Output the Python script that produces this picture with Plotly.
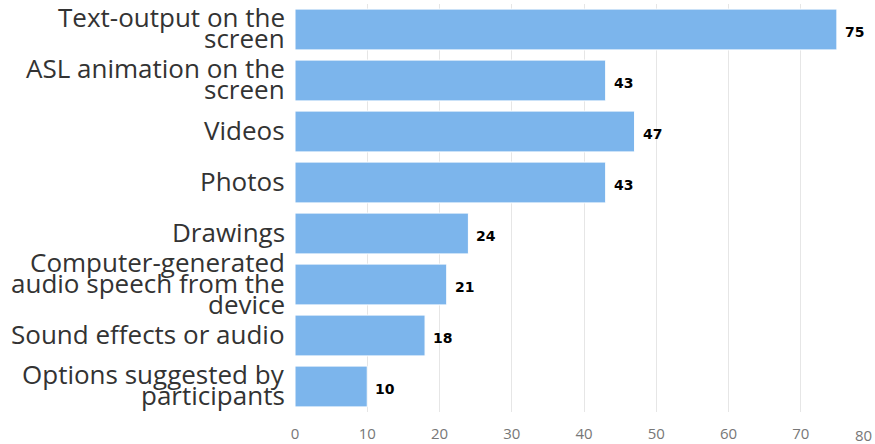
import plotly.graph_objects as go

# Survey responses: preferred output formats
categories = [
    "Text-output on the<br>screen",
    "ASL animation on the<br>screen",
    "Videos",
    "Photos",
    "Drawings",
    "Computer-generated<br>audio speech from the<br>device",
    "Sound effects or audio",
    "Options suggested by<br>participants",
]
values = [75, 43, 47, 43, 24, 21, 18, 10]
x_ticks = [0, 10, 20, 30, 40, 50, 60, 70, 80]

BAR_COLOR = "#7cb5ec"
LABEL_FONT = "Open Sans"

fig = go.Figure(
    go.Bar(
        y=categories,
        x=values,
        orientation="h",
        marker=dict(color=BAR_COLOR, line=dict(color="#ffffff", width=1)),
        hoverinfo="x+y",
    )
)

annotations = []

# Category labels, one annotation per line for tight line spacing
line_h = 21
for cat in categories:
    lines = cat.split("<br>")
    n = len(lines)
    for i, ln in enumerate(lines):
        annotations.append(dict(
            x=0, xref="paper", xanchor="right", xshift=-8,
            y=cat, yref="y", yanchor="middle",
            yshift=-(i - (n - 1) / 2) * line_h + 2,
            text=ln, showarrow=False,
            font=dict(family=LABEL_FONT, size=26, color="#333333"),
        ))

# Value labels just past the end of each bar
for cat, v in zip(categories, values):
    annotations.append(dict(
        x=v, xref="x", xanchor="left", xshift=6,
        y=cat, yref="y", yanchor="middle", yshift=-2,
        text=f"<b>{v}</b>", showarrow=False,
        font=dict(family="DejaVu Sans", size=14, color="#000000"),
    ))

# Last x tick label kept inside the page edge
annotations.append(dict(
    x=x_ticks[-1], xref="x", xanchor="right", xshift=1,
    y=0, yref="paper", yanchor="top", yshift=-11,
    text=str(x_ticks[-1]), showarrow=False,
    font=dict(family=LABEL_FONT, size=15, color="#777777"),
))

fig.update_layout(
    width=875, height=444,
    margin=dict(l=295, r=2, t=4, b=32, autoexpand=False),
    paper_bgcolor="#ffffff",
    plot_bgcolor="#ffffff",
    bargap=0.2,
    showlegend=False,
    annotations=annotations,
    xaxis=dict(
        range=[0, 80],
        tickvals=x_ticks,
        ticktext=[str(t) for t in x_ticks[:-1]] + [""],
        showgrid=True, gridcolor="#e6e6e6", gridwidth=1,
        zeroline=False, showline=False,
        ticks="", ticklen=0,
        ticklabelstandoff=11,
        tickfont=dict(family=LABEL_FONT, size=15, color="#777777"),
        automargin=False,
        fixedrange=True,
    ),
    yaxis=dict(
        range=[len(categories) - 0.5, -0.5],
        showticklabels=False,
        showgrid=False, zeroline=False, showline=False,
        ticks="",
        automargin=False,
        fixedrange=True,
    ),
)

fig.write_html("out.html")
